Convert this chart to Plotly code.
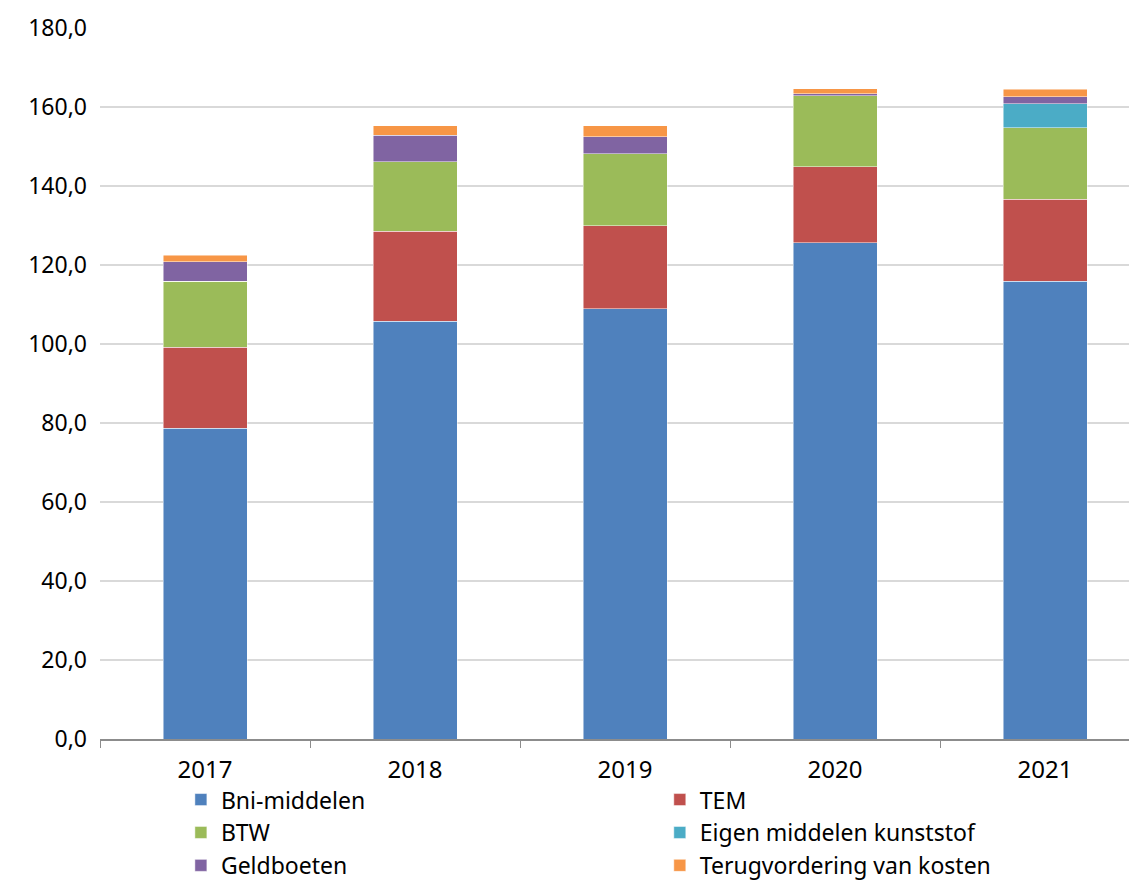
import plotly.graph_objects as go

years = ["2017", "2018", "2019", "2020", "2021"]
bni = [78.7, 105.8, 108.9, 125.6, 115.9]
tem = [20.5, 22.8, 21.0, 19.3, 20.7]
btw = [16.7, 17.6, 18.3, 17.9, 18.1]
kunststof = [0.0, 0.0, 0.0, 0.0, 6.1]
geldboeten = [4.9, 6.7, 4.3, 0.5, 1.8]
terug = [1.7, 2.3, 2.7, 1.3, 1.9]

series = [
    ("Bni-middelen", bni, "#4F81BD", "legend"),
    ("TEM", tem, "#C0504D", "legend2"),
    ("BTW", btw, "#9BBB59", "legend"),
    ("Eigen middelen kunststof", kunststof, "#4BACC6", "legend2"),
    ("Geldboeten", geldboeten, "#8064A2", "legend"),
    ("Terugvordering van kosten", terug, "#F79646", "legend2"),
]

fig = go.Figure()
for name, vals, color, leg in series:
    fig.add_trace(go.Bar(
        x=years, y=vals, name=name, legend=leg, legendgroup=name,
        marker=dict(color=color, line=dict(color="rgba(255,255,255,0.6)", width=0.8)),
    ))

font_family = "Noto Sans"
fig.update_layout(
    barmode="stack",
    bargap=0.6,
    width=1137, height=882,
    margin=dict(l=92, r=0, t=20, b=151, autoexpand=False),
    plot_bgcolor="white", paper_bgcolor="white",
    separators=",.",
    font=dict(family=font_family, size=22, color="#000000"),
    xaxis=dict(
        type="category", range=[-0.5, 4.476], automargin=False,
        showline=True, linecolor="#8c8c8c", linewidth=1.5,
        ticks="outside", tickson="boundaries", ticklen=7, tickcolor="#8c8c8c",
        tickfont=dict(size=24), showgrid=False, ticklabelstandoff=8,
    ),
    yaxis=dict(
        range=[0, 180], dtick=20, tickformat=".1f", automargin=False,
        showgrid=True, gridcolor="#d9d9d9", gridwidth=1.5,
        zeroline=False, showline=False, ticks="", ticklabelstandoff=12,
        tickfont=dict(size=23),
    ),
    legend=dict(
        x=0.0774, y=-0.055, xanchor="left", yanchor="top",
        orientation="v", tracegroupgap=0, font=dict(size=23),
        bgcolor="rgba(0,0,0,0)",
    ),
    legend2=dict(
        x=0.5357, y=-0.055, xanchor="left", yanchor="top",
        orientation="v", tracegroupgap=0, font=dict(size=23),
        bgcolor="rgba(0,0,0,0)",
    ),
    showlegend=True,
)

fig.write_html("out.html")
